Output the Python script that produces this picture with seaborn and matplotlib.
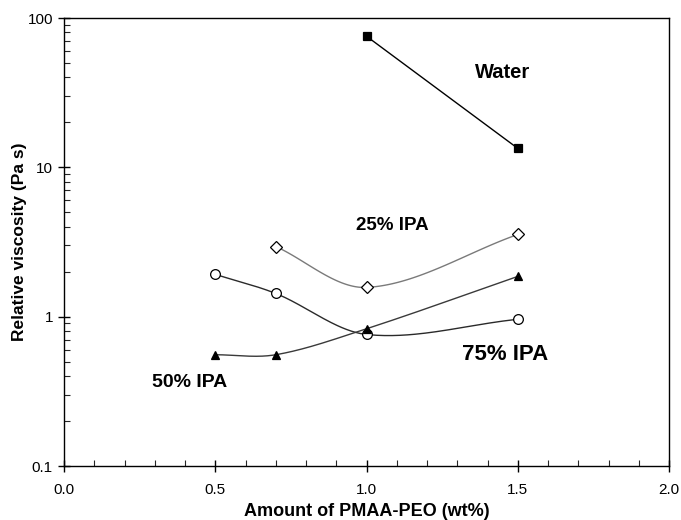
import numpy as np
import matplotlib
matplotlib.use("Agg")
import matplotlib.pyplot as plt
import seaborn as sns
from matplotlib.ticker import FixedLocator, NullFormatter, LogLocator, MultipleLocator

sns.set_theme(style="white")
plt.rcParams['font.family'] = ['Liberation Sans', 'DejaVu Sans']
plt.rcParams['text.color'] = 'black'
plt.rcParams['axes.labelcolor'] = 'black'

# ---- data ----
water_x = [1.0, 1.5]
water_y = [75.5, 13.4]

ipa25_x = [0.7, 1.0, 1.5]
ipa25_y = [2.95, 1.57, 3.55]

ipa75_x = [0.5, 0.7, 1.0, 1.5]
ipa75_y = [1.92, 1.43, 0.76, 0.96]

ipa50_x = [0.5, 0.7, 1.0, 1.5]
ipa50_y = [0.556, 0.556, 0.83, 1.86]

x_ticks = [0.0, 0.5, 1.0, 1.5, 2.0]
x_ticklabels = ["0.0", "0.5", "1.0", "1.5", "2.0"]
y_ticks = [0.1, 1, 10, 100]
y_ticklabels = ["0.1", "1", "10", "100"]


def smooth_curve(xs, ys, n=60):
    """Cubic Hermite curve with Catmull-Rom tangents in (x, log y)."""
    xs = np.asarray(xs, float)
    ls = np.log10(np.asarray(ys, float))
    m = len(xs)
    if m < 3:
        xx = np.linspace(xs[0], xs[-1], n)
        return xx, 10 ** np.interp(xx, xs, ls)
    d = np.zeros(m)
    d[0] = (ls[1] - ls[0]) / (xs[1] - xs[0])
    d[-1] = (ls[-1] - ls[-2]) / (xs[-1] - xs[-2])
    for i in range(1, m - 1):
        d[i] = (ls[i + 1] - ls[i - 1]) / (xs[i + 1] - xs[i - 1])
    if abs(ls[1] - ls[0]) < 1e-9:
        d[0] = 0.0
    out_x, out_y = [], []
    for i in range(m - 1):
        h = xs[i + 1] - xs[i]
        t = np.linspace(0, 1, n)
        h00 = 2 * t ** 3 - 3 * t ** 2 + 1
        h10 = t ** 3 - 2 * t ** 2 + t
        h01 = -2 * t ** 3 + 3 * t ** 2
        h11 = t ** 3 - t ** 2
        yy = h00 * ls[i] + h10 * h * d[i] + h01 * ls[i + 1] + h11 * h * d[i + 1]
        out_x.append(xs[i] + t * h)
        out_y.append(yy)
    return np.concatenate(out_x), 10 ** np.concatenate(out_y)


fig = plt.figure(figsize=(6.81, 5.20), dpi=100)
ax = fig.add_axes([64 / 681, 1 - 466 / 520, (669 - 64) / 681, (466 - 18) / 520])
ax.set_yscale('log')

series = [
    (water_x, water_y, 'black', 's', 'black', 5.5),
    (ipa25_x, ipa25_y, '#7a7a7a', 'D', 'white', 6),
    (ipa75_x, ipa75_y, '#2a2a2a', 'o', 'white', 7),
    (ipa50_x, ipa50_y, '#3a3a3a', '^', 'black', 6),
]

for xs, ys, lc, mk, fc, ms in series:
    sx, sy = smooth_curve(xs, ys)
    sns.lineplot(x=sx, y=sy, ax=ax, color=lc, linewidth=1.0, sort=False,
                 estimator=None)
    ax.plot(xs, ys, linestyle='none', marker=mk, markersize=ms,
            markerfacecolor=fc, markeredgecolor='black', markeredgewidth=0.9,
            zorder=5)

ax.set_xlim(0, 2)
ax.set_ylim(0.1, 100)

ax.xaxis.set_major_locator(FixedLocator(x_ticks))
ax.set_xticklabels(x_ticklabels)
ax.xaxis.set_minor_locator(MultipleLocator(0.1))
ax.yaxis.set_major_locator(FixedLocator(y_ticks))
ax.set_yticklabels(y_ticklabels)
ax.yaxis.set_minor_locator(LogLocator(base=10, subs=np.arange(2, 10)))
ax.yaxis.set_minor_formatter(NullFormatter())

ax.tick_params(which='major', direction='inout', length=8, width=1,
               labelsize=11, colors='black', pad=4,
               bottom=True, left=True, top=False, right=False)
ax.tick_params(axis='x', which='major', pad=8)
ax.tick_params(which='minor', direction='in', length=4, width=0.8,
               bottom=True, left=True, top=False, right=False)

for s in ax.spines.values():
    s.set_color('black')
    s.set_linewidth(1.0)

ax.set_xlabel("Amount of PMAA-PEO (wt%)", fontsize=13, fontweight='bold')
ax.set_ylabel("Relative viscosity (Pa s)", fontsize=12.5, fontweight='bold')
ax.xaxis.set_label_coords(0.5, -0.083)
ax.yaxis.set_label_coords(-0.061, 0.5)

ax.text(1.451, 43.4, "Water", fontsize=14.5, fontweight='bold',
        ha='center', va='center')
ax.text(1.084, 4.05, "25% IPA", fontsize=13.5, fontweight='bold',
        ha='center', va='center')
ax.text(1.458, 0.562, "75% IPA", fontsize=16, fontweight='bold',
        ha='center', va='center')
ax.text(0.4165, 0.36, "50% IPA", fontsize=14, fontweight='bold',
        ha='center', va='center')

ax.grid(False)
ax.set_facecolor('white')
fig.patch.set_facecolor('white')
fig.savefig("out.png", dpi=100)
